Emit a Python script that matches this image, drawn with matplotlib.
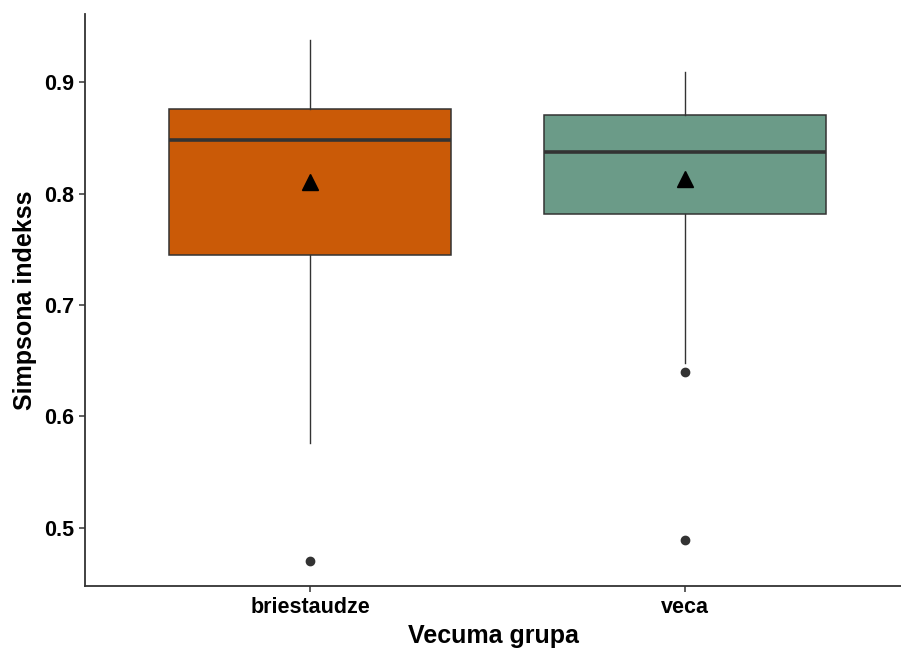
import matplotlib
matplotlib.use("Agg")
import matplotlib.pyplot as plt

categories = ["briestaudze", "veca"]
whisker_low = [0.576, 0.648]
q1 = [0.745, 0.782]
median = [0.848, 0.837]
q3 = [0.876, 0.871]
whisker_high = [0.938, 0.909]
means = [0.810, 0.813]
outliers = [[0.470], [0.640, 0.489]]
colors = ["#CA5A07", "#6B9B88"]
y_ticks = [0.5, 0.6, 0.7, 0.8, 0.9]

plt.rcParams['font.family'] = ['Liberation Sans', 'DejaVu Sans']

fig = plt.figure(figsize=(9.01, 6.5), dpi=100)
ax = fig.add_axes([85/901, 64/650, 1 - 85/901, (586-14)/650])

stats = []
for i, c in enumerate(categories):
    stats.append(dict(label=c, whislo=whisker_low[i], q1=q1[i], med=median[i],
                      q3=q3[i], whishi=whisker_high[i], fliers=outliers[i],
                      mean=means[i]))

pos = list(range(1, len(categories) + 1))
bp = ax.bxp(stats, positions=pos, widths=0.75, patch_artist=True, showcaps=False,
            showmeans=True,
            boxprops=dict(edgecolor="#333333", linewidth=1.1),
            whiskerprops=dict(color="#333333", linewidth=1.0),
            medianprops=dict(color="#333333", linewidth=2.6),
            flierprops=dict(marker="o", markerfacecolor="#333333", markeredgecolor="#333333",
                            markersize=6),
            meanprops=dict(marker="^", markerfacecolor="black", markeredgecolor="black",
                           markersize=11))
for patch, col in zip(bp["boxes"], colors):
    patch.set_facecolor(col)

ax.set_xlim(0.4, 0.4 + (901 - 85) / 375)
ax.set_ylim(0.4476, 0.9613)
ax.set_yticks(y_ticks)
ax.set_yticklabels([f"{v:.1f}" for v in y_ticks])
ax.set_xticks(pos)
ax.set_xticklabels(categories)

for s in ["top", "right"]:
    ax.spines[s].set_visible(False)
for s in ["left", "bottom"]:
    ax.spines[s].set_color("#333333")
    ax.spines[s].set_linewidth(1.3)
ax.tick_params(axis="both", colors="#333333", length=4, width=1.1, labelsize=15.5,
               labelcolor="black")
ax.tick_params(axis="x", pad=4)
ax.tick_params(axis="y", pad=4)
for lab in ax.get_xticklabels() + ax.get_yticklabels():
    lab.set_fontweight("bold")

ax.set_xlabel("Vecuma grupa", fontsize=18, fontweight="bold", labelpad=4)
ax.set_ylabel("Simpsona indekss", fontsize=18, fontweight="bold", labelpad=5)

fig.savefig("out.png", dpi=100)
